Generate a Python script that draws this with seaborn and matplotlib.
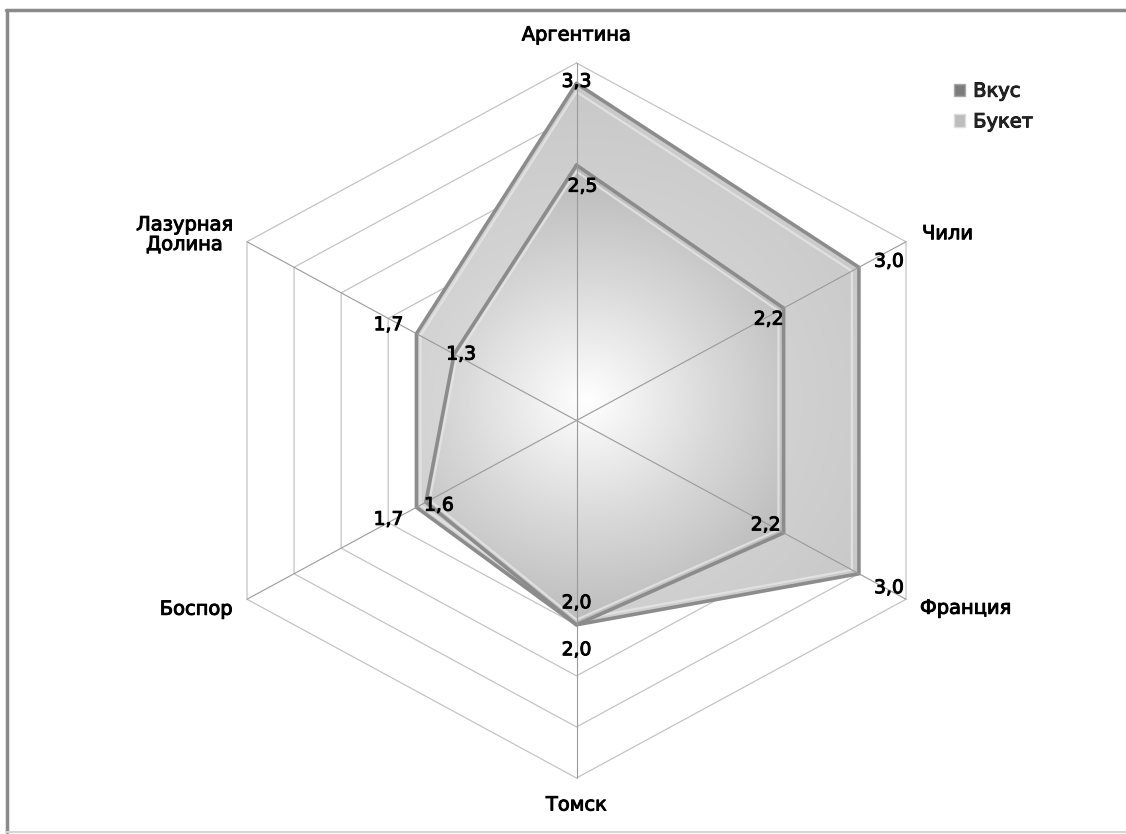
import numpy as np
import matplotlib
matplotlib.use("Agg")
import matplotlib.pyplot as plt
import matplotlib.patheffects as pe
import seaborn as sns
from matplotlib.patches import Polygon, Patch
from matplotlib.lines import Line2D
from matplotlib.colors import LinearSegmentedColormap

# ---------------- data ----------------
categories = ["Аргентина", "Чили", "Франция", "Томск", "Боспор", "Лазурная\nДолина"]
series_names = ["Вкус", "Букет"]
vkus = [3.3, 3.0, 3.0, 2.0, 1.7, 1.7]
buket = [2.5, 2.2, 2.2, 2.0, 1.6, 1.3]
ring_ticks = [0.5, 1.0, 1.5, 2.0, 2.5, 3.0, 3.5]

# ---------------- style ----------------
sns.set_theme(style="white")
plt.rcParams['font.family'] = ['DejaVu Sans']
bold_fx = [pe.withStroke(linewidth=0.7, foreground="black")]

W, H = 1126, 834
fig = plt.figure(figsize=(W / 100, H / 100), dpi=100)
fig.patch.set_facecolor("white")
ax = fig.add_axes([0, 0, 1, 1])
ax.axis("off")

cx, cy = 576.5, 420.5          # centre in pixels
rmax = ring_ticks[-1]
sx = 329.5 / (rmax * np.cos(np.pi / 6))   # px per unit (x)
sy = 357.5 / rmax                          # px per unit (y)
xlim = (-cx / sx, (W - cx) / sx)
ylim = (-(H - cy) / sy, cy / sy)

n = len(categories)
ang = np.pi / 2 - 2 * np.pi * np.arange(n) / n


def xy(vals, closed=False):
    v = np.asarray(vals, float)
    x, y = v * np.cos(ang), v * np.sin(ang)
    if closed:
        x, y = np.r_[x, x[0]], np.r_[y, y[0]]
    return x, y


# rings
for t in ring_ticks:
    x, y = xy([t] * n, closed=True)
    sns.lineplot(x=x, y=y, sort=False, ax=ax, color="#c4c4c4", lw=0.9, zorder=1, estimator=None)


def gradient_fill(vals, colors, center, rscale, zorder):
    x, y = xy(vals)
    poly = Polygon(np.c_[x, y], closed=True, facecolor="none", edgecolor="none")
    ax.add_patch(poly)
    gx = np.linspace(xlim[0], xlim[1], 500)
    gy = np.linspace(ylim[0], ylim[1], 500)
    X, Y = np.meshgrid(gx, gy)
    R = np.clip(np.hypot(X - center[0], Y - center[1]) / rscale, 0, 1)
    cmap = LinearSegmentedColormap.from_list("g", colors)
    im = ax.imshow(R, extent=(xlim[0], xlim[1], ylim[0], ylim[1]), origin="lower",
                   cmap=cmap, vmin=0, vmax=1, zorder=zorder, aspect="auto",
                   interpolation="bilinear")
    im.set_clip_path(poly)
    # bevel-like edges
    xc, yc = xy(vals, closed=True)
    ax.plot(xc, yc, color="#8c8c8c", lw=2.6, zorder=zorder + 0.2, solid_joinstyle="miter")
    xi, yi = xy(np.asarray(vals) * 0.975, closed=True)
    ax.plot(xi, yi, color="#e6e6e6", lw=1.6, alpha=0.8, zorder=zorder + 0.1, solid_joinstyle="miter")


gradient_fill(vkus, ["#e4e4e4", "#d2d2d2", "#c6c6c6"], (0.1, 0.2), 3.4, 2)
gradient_fill(buket, ["#ffffff", "#d8d8d8", "#b6b6b6"], (0.1, 0.2), 2.4, 3)

# spokes
for a in ang:
    ax.plot([0, rmax * np.cos(a)], [0, rmax * np.sin(a)], color="#9a9a9a", lw=0.8, zorder=5)


def fmt(v):
    return f"{v:.1f}".replace(".", ",")


# data labels (pixel offsets, image y down)
off_vkus = [(0, -2), (30, -6), (30, 14), (0, 25), (-28, 12), (-28, -9)]
off_buket = [(6, 21), (-15, 11), (-18, -8), (0, -22), (13, 3), (7, 0)]
for vals, offs in ((vkus, off_vkus), (buket, off_buket)):
    x, y = xy(vals)
    for xi, yi, v, (dx, dy) in zip(x, y, vals, offs):
        ax.annotate(fmt(v), (xi, yi), xytext=(dx, -dy), textcoords="offset pixels",
                    ha="center", va="center", fontsize=13.5, color="black", zorder=10,
                    path_effects=bold_fx)

# category labels
cat_offs = [((0, -28), "center"), ((16, -8), "left"), ((14, 9), "left"),
            ((0, 27), "center"), ((-14, 10), "right"), ((-14, -7), "right")]
x, y = xy([rmax] * n)
for xi, yi, lab, ((dx, dy), ha) in zip(x, y, categories, cat_offs):
    ax.annotate(lab, (xi, yi), xytext=(dx, -dy), textcoords="offset pixels",
                ha=ha, va="center", multialignment="center", fontsize=14,
                color="black", zorder=10, linespacing=1.05, path_effects=bold_fx)

ax.set_xlim(*xlim)
ax.set_ylim(*ylim)

# legend
handles = [Patch(facecolor="#7c7c7c", edgecolor="#a8a8a8"),
           Patch(facecolor="#bdbdbd", edgecolor="#dddddd")]
leg = fig.legend(handles, series_names, loc="upper left", bbox_to_anchor=(944 / W, 1 - 72 / H),
                 frameon=False, fontsize=14, handlelength=0.6, handleheight=0.6,
                 handletextpad=0.4, labelspacing=0.6, borderpad=0)
for t in leg.get_texts():
    t.set_path_effects(bold_fx)

# outer frame
fig.add_artist(Line2D([7 / W, 7 / W], [1 - 10 / H, 1 - 832 / H], color="#8a8a8a", lw=2.5))
fig.add_artist(Line2D([6 / W, 1], [1 - 10 / H, 1 - 10 / H], color="#8a8a8a", lw=2.5))
fig.add_artist(Line2D([6 / W, 1], [1 - 832 / H, 1 - 832 / H], color="#d4d4d4", lw=1.5))

fig.savefig("out.png", dpi=100, facecolor="white")
